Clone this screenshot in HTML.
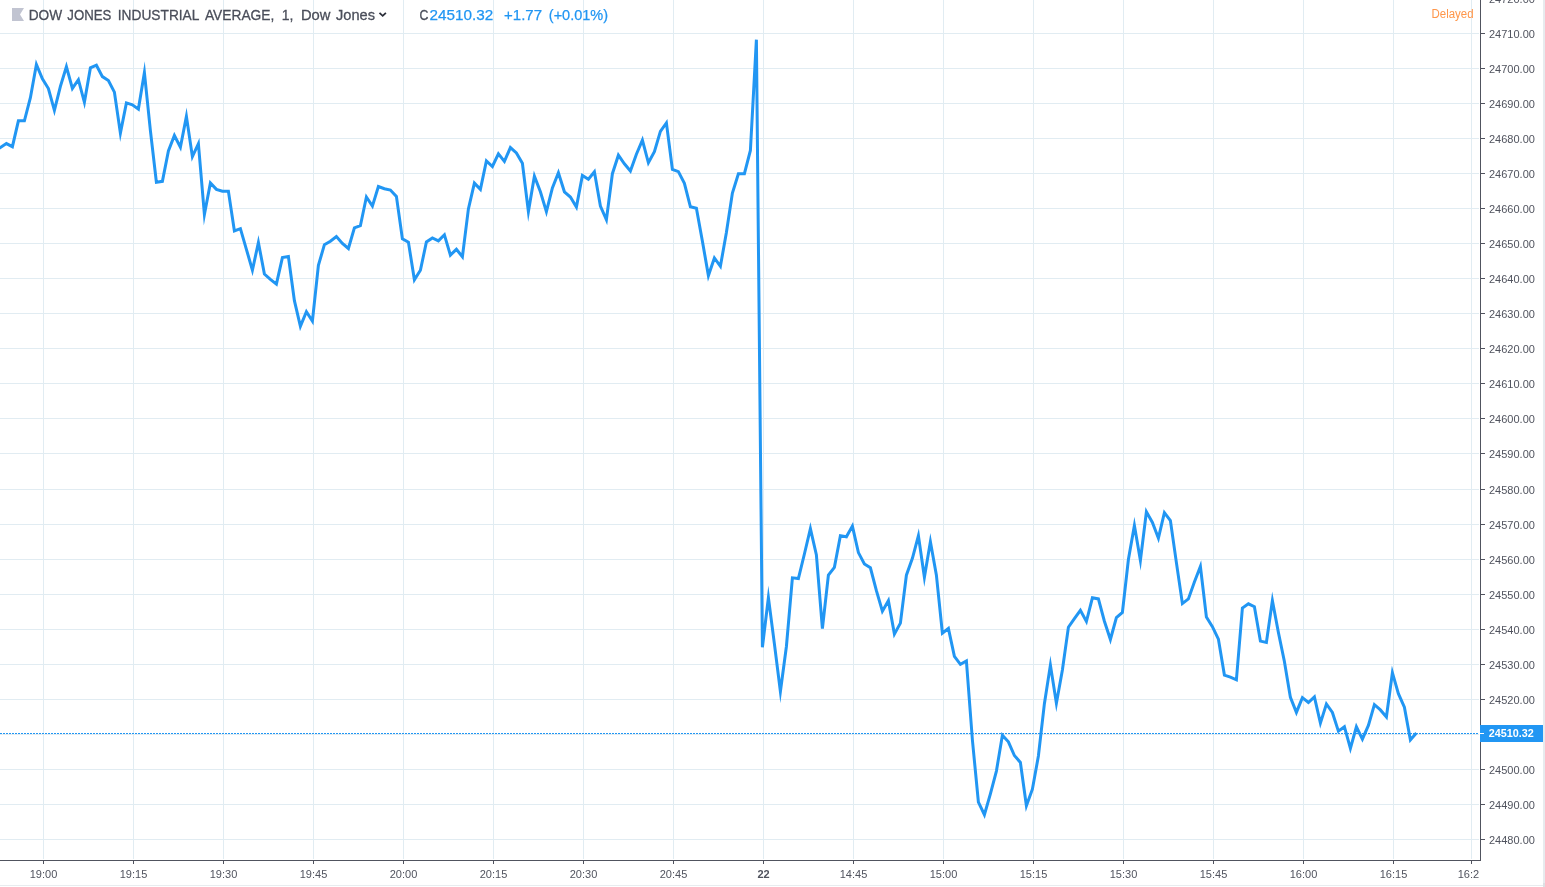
<!DOCTYPE html><html><head><meta charset="utf-8"><title>DJI</title><style>
html,body{margin:0;padding:0;background:#fff;overflow:hidden}svg{display:block;will-change:transform}text{font-family:"Liberation Sans",sans-serif}
</style></head><body>
<svg width="1545" height="887" viewBox="0 0 1545 887">
<rect width="1545" height="887" fill="#fff"/>
<path d="M43.5 0V859M133.5 0V859M223.5 0V859M313.5 0V859M403.5 0V859M493.5 0V859M583.5 0V859M673.5 0V859M763.5 0V859M853.5 0V859M943.5 0V859M1033.5 0V859M1123.5 0V859M1213.5 0V859M1303.5 0V859M1393.5 0V859M1471.5 0V859M0 33.5H1479M0 68.5H1479M0 103.5H1479M0 138.5H1479M0 173.5H1479M0 208.5H1479M0 243.5H1479M0 278.5H1479M0 313.5H1479M0 348.5H1479M0 383.5H1479M0 418.5H1479M0 453.5H1479M0 489.5H1479M0 524.5H1479M0 559.5H1479M0 594.5H1479M0 629.5H1479M0 664.5H1479M0 699.5H1479M0 734.5H1479M0 769.5H1479M0 804.5H1479M0 839.5H1479" stroke="#e1ecf2" stroke-width="1" fill="none" shape-rendering="crispEdges"/>
<path d="M-5.6 151.2 L0.4 147.5 L6.4 143.6 L12.4 146.7 L18.4 120.8 L24.4 120.8 L30.4 97.7 L36.4 64.5 L42.4 78.8 L48.4 88.5 L54.4 110.4 L60.4 86.3 L66.4 66.7 L72.4 88.4 L78.4 79.7 L84.4 102.3 L90.4 67.9 L96.4 65.2 L102.4 76.6 L108.4 80.5 L114.4 92.1 L120.4 133.1 L126.4 102.9 L132.4 104.8 L138.4 109.1 L144.4 72.5 L150.4 130.7 L156.4 182.2 L162.4 181.3 L168.4 151.0 L174.4 135.5 L180.4 147.2 L186.4 116.4 L192.4 156.6 L198.4 143.7 L204.4 214.5 L210.4 183.0 L216.4 189.4 L222.4 191.3 L228.4 191.3 L234.4 230.9 L240.4 228.7 L246.4 249.3 L252.4 270.2 L258.4 242.5 L264.4 274.0 L270.4 279.4 L276.4 284.2 L282.4 257.6 L288.4 256.6 L294.4 300.7 L300.4 326.3 L306.4 311.8 L312.4 321.1 L318.4 265.4 L324.4 244.7 L330.4 241.3 L336.4 236.6 L342.4 243.4 L348.4 248.5 L354.4 227.8 L360.4 225.7 L366.4 197.0 L372.4 206.1 L378.4 186.5 L384.4 188.7 L390.4 190.0 L396.4 196.4 L402.4 238.9 L408.4 242.1 L414.4 279.8 L420.4 270.3 L426.4 242.0 L432.4 237.9 L438.4 240.9 L444.4 234.8 L450.4 255.1 L456.4 249.3 L462.4 256.8 L468.4 208.9 L474.4 183.1 L480.4 189.4 L486.4 160.9 L492.4 166.5 L498.4 153.9 L504.4 161.4 L510.4 147.6 L516.4 153.0 L522.4 163.3 L528.4 211.6 L534.4 176.2 L540.4 191.8 L546.4 211.7 L552.4 187.9 L558.4 172.7 L564.4 191.8 L570.4 197.0 L576.4 207.0 L582.4 175.4 L588.4 179.2 L594.4 171.7 L600.4 206.1 L606.4 219.8 L612.4 173.7 L618.4 155.2 L624.4 163.8 L630.4 171.0 L636.4 154.2 L642.4 140.2 L648.4 162.8 L654.4 151.7 L660.4 131.4 L666.4 122.9 L672.4 169.5 L678.4 171.6 L684.4 183.3 L690.4 206.8 L696.4 208.3 L702.4 241.2 L708.4 275.6 L714.4 257.9 L720.4 266.3 L726.4 232.5 L732.4 193.0 L738.4 173.7 L744.4 173.7 L750.4 150.4 L756.4 39.7 L762.4 647.2 L768.4 597.6 L774.4 643.9 L780.4 691.5 L786.4 646.5 L792.4 577.8 L798.4 578.5 L804.4 554.0 L810.4 528.7 L816.4 555.0 L822.4 628.7 L828.4 575.2 L834.4 567.4 L840.4 535.8 L846.4 536.8 L852.4 526.1 L858.4 552.6 L864.4 564.0 L870.4 567.8 L876.4 590.7 L882.4 611.2 L888.4 600.7 L894.4 634.1 L900.4 623.1 L906.4 575.2 L912.4 558.3 L918.4 535.8 L924.4 577.3 L930.4 541.8 L936.4 575.2 L942.4 633.2 L948.4 628.5 L954.4 656.3 L960.4 664.3 L966.4 660.9 L972.4 740.0 L978.4 802.2 L984.4 814.7 L990.4 793.8 L996.4 771.1 L1002.4 735.2 L1008.4 741.8 L1014.4 755.5 L1020.4 762.5 L1026.4 805.7 L1032.4 789.2 L1038.4 756.0 L1044.4 703.7 L1050.4 665.1 L1056.4 703.3 L1062.4 670.0 L1068.4 627.2 L1074.4 618.7 L1080.4 610.3 L1086.4 621.5 L1092.4 597.8 L1098.4 598.9 L1104.4 621.2 L1110.4 639.5 L1116.4 617.5 L1122.4 612.4 L1128.4 559.5 L1134.4 525.5 L1140.4 560.5 L1146.4 511.8 L1152.4 522.4 L1158.4 538.2 L1164.4 512.6 L1170.4 520.6 L1176.4 562.6 L1182.4 603.6 L1188.4 598.9 L1194.4 582.0 L1200.4 566.5 L1206.4 617.0 L1212.4 626.6 L1218.4 639.1 L1224.4 675.1 L1230.4 677.2 L1236.4 679.8 L1242.4 608.0 L1248.4 603.8 L1254.4 606.7 L1260.4 641.1 L1266.4 642.4 L1272.4 600.6 L1278.4 632.5 L1284.4 661.5 L1290.4 697.4 L1296.4 712.4 L1302.4 697.6 L1308.4 702.5 L1314.4 696.9 L1320.4 723.1 L1326.4 704.0 L1332.4 712.5 L1338.4 731.1 L1344.4 726.7 L1350.4 748.4 L1356.4 726.8 L1362.4 739.1 L1368.4 725.4 L1374.4 704.6 L1380.4 709.9 L1386.4 716.9 L1392.4 672.7 L1398.4 693.7 L1404.4 707.2 L1410.4 739.9 L1416.4 733.0" stroke="#2196f3" stroke-width="3" fill="none" stroke-linejoin="miter" stroke-miterlimit="10" stroke-linecap="butt"/>
<path d="M0 733.5H1479" stroke="#2196f3" stroke-width="1" stroke-dasharray="2 1" fill="none" shape-rendering="crispEdges"/>
<rect x="1481" y="0" width="62" height="860" fill="#fff"/>
<path d="M1480.5 0V861M0 860.5H1481M43.5 861V864M133.5 861V864M223.5 861V864M313.5 861V864M403.5 861V864M493.5 861V864M583.5 861V864M673.5 861V864M763.5 861V864M853.5 861V864M943.5 861V864M1033.5 861V864M1123.5 861V864M1213.5 861V864M1303.5 861V864M1393.5 861V864M1471.5 861V864M1481 33.5H1485M1481 68.5H1485M1481 103.5H1485M1481 138.5H1485M1481 173.5H1485M1481 208.5H1485M1481 243.5H1485M1481 278.5H1485M1481 313.5H1485M1481 348.5H1485M1481 383.5H1485M1481 418.5H1485M1481 453.5H1485M1481 489.5H1485M1481 524.5H1485M1481 559.5H1485M1481 594.5H1485M1481 629.5H1485M1481 664.5H1485M1481 699.5H1485M1481 734.5H1485M1481 769.5H1485M1481 804.5H1485M1481 839.5H1485" stroke="#50535e" stroke-width="1" fill="none" shape-rendering="crispEdges"/>
<text x="1489" y="3" font-size="11" fill="#50535e">24720.00</text>
<text x="1489" y="38" font-size="11" fill="#50535e">24710.00</text>
<text x="1489" y="73" font-size="11" fill="#50535e">24700.00</text>
<text x="1489" y="108" font-size="11" fill="#50535e">24690.00</text>
<text x="1489" y="143" font-size="11" fill="#50535e">24680.00</text>
<text x="1489" y="178" font-size="11" fill="#50535e">24670.00</text>
<text x="1489" y="213" font-size="11" fill="#50535e">24660.00</text>
<text x="1489" y="248" font-size="11" fill="#50535e">24650.00</text>
<text x="1489" y="283" font-size="11" fill="#50535e">24640.00</text>
<text x="1489" y="318" font-size="11" fill="#50535e">24630.00</text>
<text x="1489" y="353" font-size="11" fill="#50535e">24620.00</text>
<text x="1489" y="388" font-size="11" fill="#50535e">24610.00</text>
<text x="1489" y="423" font-size="11" fill="#50535e">24600.00</text>
<text x="1489" y="458" font-size="11" fill="#50535e">24590.00</text>
<text x="1489" y="494" font-size="11" fill="#50535e">24580.00</text>
<text x="1489" y="529" font-size="11" fill="#50535e">24570.00</text>
<text x="1489" y="564" font-size="11" fill="#50535e">24560.00</text>
<text x="1489" y="599" font-size="11" fill="#50535e">24550.00</text>
<text x="1489" y="634" font-size="11" fill="#50535e">24540.00</text>
<text x="1489" y="669" font-size="11" fill="#50535e">24530.00</text>
<text x="1489" y="704" font-size="11" fill="#50535e">24520.00</text>
<text x="1489" y="739" font-size="11" fill="#50535e">24510.00</text>
<text x="1489" y="774" font-size="11" fill="#50535e">24500.00</text>
<text x="1489" y="809" font-size="11" fill="#50535e">24490.00</text>
<text x="1489" y="844" font-size="11" fill="#50535e">24480.00</text>
<clipPath id="c"><rect x="0" y="861" width="1479" height="26"/></clipPath><g clip-path="url(#c)">
<text x="43.5" y="878" font-size="11" text-anchor="middle" fill="#50535e">19:00</text>
<text x="133.5" y="878" font-size="11" text-anchor="middle" fill="#50535e">19:15</text>
<text x="223.5" y="878" font-size="11" text-anchor="middle" fill="#50535e">19:30</text>
<text x="313.5" y="878" font-size="11" text-anchor="middle" fill="#50535e">19:45</text>
<text x="403.5" y="878" font-size="11" text-anchor="middle" fill="#50535e">20:00</text>
<text x="493.5" y="878" font-size="11" text-anchor="middle" fill="#50535e">20:15</text>
<text x="583.5" y="878" font-size="11" text-anchor="middle" fill="#50535e">20:30</text>
<text x="673.5" y="878" font-size="11" text-anchor="middle" fill="#50535e">20:45</text>
<text x="763.5" y="878" font-size="11" text-anchor="middle" fill="#50535e" font-weight="bold">22</text>
<text x="853.5" y="878" font-size="11" text-anchor="middle" fill="#50535e">14:45</text>
<text x="943.5" y="878" font-size="11" text-anchor="middle" fill="#50535e">15:00</text>
<text x="1033.5" y="878" font-size="11" text-anchor="middle" fill="#50535e">15:15</text>
<text x="1123.5" y="878" font-size="11" text-anchor="middle" fill="#50535e">15:30</text>
<text x="1213.5" y="878" font-size="11" text-anchor="middle" fill="#50535e">15:45</text>
<text x="1303.5" y="878" font-size="11" text-anchor="middle" fill="#50535e">16:00</text>
<text x="1393.5" y="878" font-size="11" text-anchor="middle" fill="#50535e">16:15</text>
<text x="1471.5" y="878" font-size="11" text-anchor="middle" fill="#50535e">16:28</text>
</g>
<rect x="1480" y="725" width="63" height="17" fill="#2196f3"/>
<rect x="1480" y="733" width="4" height="1" fill="#fff"/>
<text x="1488.8" y="737" font-size="11" font-weight="bold" fill="#fff" textLength="45" lengthAdjust="spacingAndGlyphs">24510.32</text>
<rect x="1543" y="0" width="2" height="887" fill="#e7ebee"/>
<rect x="0" y="885" width="1543" height="1" fill="#e8ecef"/>
<rect x="1543" y="883" width="2" height="4" fill="#dde0e4"/>
<path d="M12 8H24L20 14.5L24 21H12Z" fill="#c1c4d1"/>
<text x="28.7" y="20" font-size="15.5" fill="#4a4e5a" stroke="#4a4e5a" stroke-width="0.3" textLength="33.4" lengthAdjust="spacingAndGlyphs">DOW</text>
<text x="67.3" y="20" font-size="15.5" fill="#4a4e5a" stroke="#4a4e5a" stroke-width="0.3" textLength="44.0" lengthAdjust="spacingAndGlyphs">JONES</text>
<text x="117.8" y="20" font-size="15.5" fill="#4a4e5a" stroke="#4a4e5a" stroke-width="0.3" textLength="81.6" lengthAdjust="spacingAndGlyphs">INDUSTRIAL</text>
<text x="204.9" y="20" font-size="15.5" fill="#4a4e5a" stroke="#4a4e5a" stroke-width="0.3" textLength="69.5" lengthAdjust="spacingAndGlyphs">AVERAGE,</text>
<text x="281.7" y="20" font-size="15.5" fill="#4a4e5a" stroke="#4a4e5a" stroke-width="0.3" textLength="11.7" lengthAdjust="spacingAndGlyphs">1,</text>
<text x="300.9" y="20" font-size="15.5" fill="#4a4e5a" stroke="#4a4e5a" stroke-width="0.3" textLength="29.5" lengthAdjust="spacingAndGlyphs">Dow</text>
<text x="336" y="20" font-size="15.5" fill="#4a4e5a" stroke="#4a4e5a" stroke-width="0.3" textLength="39.0" lengthAdjust="spacingAndGlyphs">Jones</text>
<path d="M379.5 12.8L382.7 15.8L385.9 12.8" stroke="#2a2e39" stroke-width="1.8" fill="none"/>
<text x="419.4" y="20" font-size="15.5" fill="#4a4e5a" stroke="#4a4e5a" stroke-width="0.3" textLength="8.9" lengthAdjust="spacingAndGlyphs">C</text>
<text x="429.5" y="20" font-size="15.5" fill="#2196f3" stroke="#2196f3" stroke-width="0.25" textLength="63.7" lengthAdjust="spacingAndGlyphs">24510.32</text>
<text x="504" y="20" font-size="15.5" fill="#2196f3" stroke="#2196f3" stroke-width="0.25" textLength="38.1" lengthAdjust="spacingAndGlyphs">+1.77</text>
<text x="548.8" y="20" font-size="15.5" fill="#2196f3" stroke="#2196f3" stroke-width="0.25" textLength="59.3" lengthAdjust="spacingAndGlyphs">(+0.01%)</text>
<text x="1431.5" y="18" font-size="12" fill="#ff964a" textLength="42.1" lengthAdjust="spacingAndGlyphs">Delayed</text>
</svg></body></html>
